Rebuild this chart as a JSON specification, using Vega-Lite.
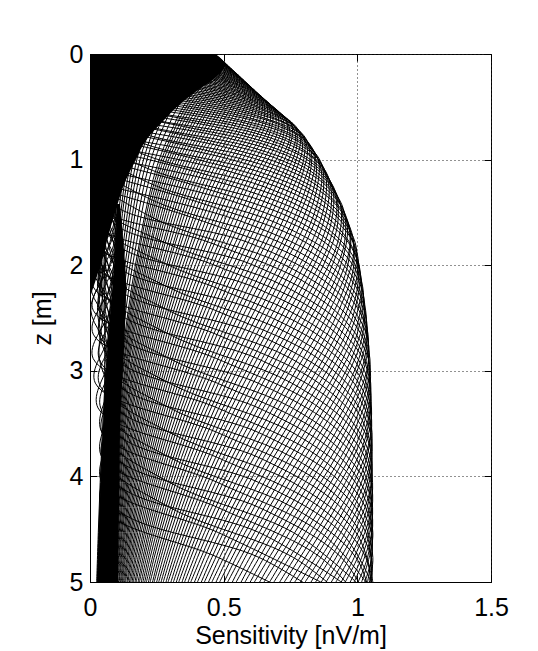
{
"$schema":"https://vega.github.io/schema/vega-lite/v6.json",
"width":401,"height":528,
"autosize":{"type":"none"},
"padding":{"left":90,"top":54,"right":47,"bottom":69},
"background":"#ffffff",
"config":{"view":{"stroke":"#000","strokeWidth":1},"font":"Liberation Sans"},
"datasets":{
"wedge":[{"z":0,"x":0.47},{"z":0.105,"x":0.505},{"z":0.22,"x":0.47},{"z":0.348,"x":0.40},{"z":0.489,"x":0.33},{"z":0.645,"x":0.27},{"z":0.817,"x":0.21},{"z":1.008,"x":0.17},{"z":1.218,"x":0.13},{"z":1.45,"x":0.10},{"z":1.707,"x":0.07},{"z":1.99,"x":0.04},{"z":2.304,"x":0}],
"strip":[{"z":1.42,"xl":0.100,"xr":0.112},{"z":1.787,"xl":0.098,"xr":0.125},{"z":2.205,"xl":0.084,"xr":0.135},{"z":2.653,"xl":0.070,"xr":0.130},{"z":3.117,"xl":0.058,"xr":0.120},{"z":3.586,"xl":0.048,"xr":0.112},{"z":4.059,"xl":0.040,"xr":0.110},{"z":4.532,"xl":0.033,"xr":0.107},{"z":5,"xl":0.027,"xr":0.105}],
"curves":[
{"c":0,"z":0.407,"x":0.202},{"c":0,"z":0.533,"x":0.181},{"c":0,"z":0.686,"x":0.164},{"c":0,"z":0.877,"x":0.145},{"c":0,"z":1.118,"x":0.127},{"c":0,"z":1.42,"x":0.111},{"c":0,"z":1.787,"x":0.096},{"c":0,"z":2.205,"x":0.081},{"c":0,"z":2.653,"x":0.068},{"c":0,"z":3.117,"x":0.056},{"c":0,"z":3.586,"x":0.046},{"c":0,"z":4.059,"x":0.038},{"c":0,"z":4.532,"x":0.031},{"c":0,"z":5,"x":0.025},
{"c":1,"z":0.407,"x":0.216},{"c":1,"z":0.533,"x":0.193},{"c":1,"z":0.686,"x":0.175},{"c":1,"z":0.877,"x":0.155},{"c":1,"z":1.118,"x":0.135},{"c":1,"z":1.42,"x":0.119},{"c":1,"z":1.787,"x":0.103},{"c":1,"z":2.205,"x":0.087},{"c":1,"z":2.653,"x":0.072},{"c":1,"z":3.117,"x":0.060},{"c":1,"z":3.586,"x":0.049},{"c":1,"z":4.059,"x":0.040},{"c":1,"z":4.532,"x":0.033},{"c":1,"z":5,"x":0.027},
{"c":2,"z":0.407,"x":0.229},{"c":2,"z":0.533,"x":0.206},{"c":2,"z":0.686,"x":0.187},{"c":2,"z":0.877,"x":0.165},{"c":2,"z":1.118,"x":0.145},{"c":2,"z":1.42,"x":0.126},{"c":2,"z":1.787,"x":0.109},{"c":2,"z":2.205,"x":0.093},{"c":2,"z":2.653,"x":0.077},{"c":2,"z":3.117,"x":0.064},{"c":2,"z":3.586,"x":0.053},{"c":2,"z":4.059,"x":0.043},{"c":2,"z":4.532,"x":0.035},{"c":2,"z":5,"x":0.029},
{"c":3,"z":0.301,"x":0.274},{"c":3,"z":0.407,"x":0.245},{"c":3,"z":0.533,"x":0.220},{"c":3,"z":0.686,"x":0.199},{"c":3,"z":0.877,"x":0.176},{"c":3,"z":1.118,"x":0.154},{"c":3,"z":1.42,"x":0.135},{"c":3,"z":1.787,"x":0.117},{"c":3,"z":2.205,"x":0.099},{"c":3,"z":2.653,"x":0.082},{"c":3,"z":3.117,"x":0.068},{"c":3,"z":3.586,"x":0.056},{"c":3,"z":4.059,"x":0.046},{"c":3,"z":4.532,"x":0.038},{"c":3,"z":5,"x":0.031},
{"c":4,"z":0.301,"x":0.291},{"c":4,"z":0.407,"x":0.260},{"c":4,"z":0.533,"x":0.235},{"c":4,"z":0.686,"x":0.213},{"c":4,"z":0.877,"x":0.188},{"c":4,"z":1.118,"x":0.165},{"c":4,"z":1.42,"x":0.145},{"c":4,"z":1.787,"x":0.125},{"c":4,"z":2.205,"x":0.105},{"c":4,"z":2.653,"x":0.088},{"c":4,"z":3.117,"x":0.073},{"c":4,"z":3.586,"x":0.060},{"c":4,"z":4.059,"x":0.049},{"c":4,"z":4.532,"x":0.040},{"c":4,"z":5,"x":0.033},
{"c":5,"z":0.211,"x":0.344},{"c":5,"z":0.301,"x":0.309},{"c":5,"z":0.407,"x":0.277},{"c":5,"z":0.533,"x":0.250},{"c":5,"z":0.686,"x":0.227},{"c":5,"z":0.877,"x":0.201},{"c":5,"z":1.118,"x":0.176},{"c":5,"z":1.42,"x":0.154},{"c":5,"z":1.787,"x":0.133},{"c":5,"z":2.205,"x":0.112},{"c":5,"z":2.653,"x":0.094},{"c":5,"z":3.117,"x":0.078},{"c":5,"z":3.586,"x":0.064},{"c":5,"z":4.059,"x":0.053},{"c":5,"z":4.532,"x":0.043},{"c":5,"z":5,"x":0.035},
{"c":6,"z":0.132,"x":0.400},{"c":6,"z":0.211,"x":0.364},{"c":6,"z":0.301,"x":0.327},{"c":6,"z":0.407,"x":0.294},{"c":6,"z":0.533,"x":0.267},{"c":6,"z":0.686,"x":0.242},{"c":6,"z":0.877,"x":0.215},{"c":6,"z":1.118,"x":0.188},{"c":6,"z":1.42,"x":0.165},{"c":6,"z":1.787,"x":0.143},{"c":6,"z":2.205,"x":0.120},{"c":6,"z":2.653,"x":0.101},{"c":6,"z":3.117,"x":0.083},{"c":6,"z":3.586,"x":0.069},{"c":6,"z":4.059,"x":0.056},{"c":6,"z":4.532,"x":0.046},{"c":6,"z":5,"x":0.038},
{"c":7,"z":0.132,"x":0.420},{"c":7,"z":0.211,"x":0.384},{"c":7,"z":0.301,"x":0.348},{"c":7,"z":0.407,"x":0.313},{"c":7,"z":0.533,"x":0.284},{"c":7,"z":0.686,"x":0.258},{"c":7,"z":0.877,"x":0.228},{"c":7,"z":1.118,"x":0.201},{"c":7,"z":1.42,"x":0.175},{"c":7,"z":1.787,"x":0.152},{"c":7,"z":2.205,"x":0.128},{"c":7,"z":2.653,"x":0.107},{"c":7,"z":3.117,"x":0.089},{"c":7,"z":3.586,"x":0.073},{"c":7,"z":4.059,"x":0.060},{"c":7,"z":4.532,"x":0.049},{"c":7,"z":5,"x":0.040},
{"c":8,"z":0.062,"x":0.463},{"c":8,"z":0.132,"x":0.439},{"c":8,"z":0.211,"x":0.405},{"c":8,"z":0.301,"x":0.368},{"c":8,"z":0.407,"x":0.333},{"c":8,"z":0.533,"x":0.302},{"c":8,"z":0.686,"x":0.275},{"c":8,"z":0.877,"x":0.244},{"c":8,"z":1.118,"x":0.214},{"c":8,"z":1.42,"x":0.188},{"c":8,"z":1.787,"x":0.163},{"c":8,"z":2.205,"x":0.137},{"c":8,"z":2.653,"x":0.115},{"c":8,"z":3.117,"x":0.095},{"c":8,"z":3.586,"x":0.078},{"c":8,"z":4.059,"x":0.064},{"c":8,"z":4.532,"x":0.053},{"c":8,"z":5,"x":0.043},
{"c":9,"z":0.062,"x":0.476},{"c":9,"z":0.132,"x":0.458},{"c":9,"z":0.211,"x":0.426},{"c":9,"z":0.301,"x":0.389},{"c":9,"z":0.407,"x":0.353},{"c":9,"z":0.533,"x":0.321},{"c":9,"z":0.686,"x":0.293},{"c":9,"z":0.877,"x":0.260},{"c":9,"z":1.118,"x":0.229},{"c":9,"z":1.42,"x":0.200},{"c":9,"z":1.787,"x":0.174},{"c":9,"z":2.205,"x":0.146},{"c":9,"z":2.653,"x":0.123},{"c":9,"z":3.117,"x":0.101},{"c":9,"z":3.586,"x":0.084},{"c":9,"z":4.059,"x":0.069},{"c":9,"z":4.532,"x":0.056},{"c":9,"z":5,"x":0.046},
{"c":10,"z":0,"x":0.467},{"c":10,"z":0.062,"x":0.486},{"c":10,"z":0.132,"x":0.475},{"c":10,"z":0.211,"x":0.447},{"c":10,"z":0.301,"x":0.411},{"c":10,"z":0.407,"x":0.374},{"c":10,"z":0.533,"x":0.341},{"c":10,"z":0.686,"x":0.312},{"c":10,"z":0.877,"x":0.277},{"c":10,"z":1.118,"x":0.244},{"c":10,"z":1.42,"x":0.214},{"c":10,"z":1.787,"x":0.185},{"c":10,"z":2.205,"x":0.156},{"c":10,"z":2.653,"x":0.131},{"c":10,"z":3.117,"x":0.108},{"c":10,"z":3.586,"x":0.089},{"c":10,"z":4.059,"x":0.073},{"c":10,"z":4.532,"x":0.060},{"c":10,"z":5,"x":0.049},
{"c":11,"z":0,"x":0.458},{"c":11,"z":0.062,"x":0.493},{"c":11,"z":0.132,"x":0.492},{"c":11,"z":0.211,"x":0.467},{"c":11,"z":0.301,"x":0.433},{"c":11,"z":0.407,"x":0.396},{"c":11,"z":0.533,"x":0.362},{"c":11,"z":0.686,"x":0.331},{"c":11,"z":0.877,"x":0.295},{"c":11,"z":1.118,"x":0.260},{"c":11,"z":1.42,"x":0.228},{"c":11,"z":1.787,"x":0.198},{"c":11,"z":2.205,"x":0.167},{"c":11,"z":2.653,"x":0.140},{"c":11,"z":3.117,"x":0.116},{"c":11,"z":3.586,"x":0.095},{"c":11,"z":4.059,"x":0.078},{"c":11,"z":4.532,"x":0.064},{"c":11,"z":5,"x":0.053},
{"c":12,"z":0,"x":0.442},{"c":12,"z":0.062,"x":0.496},{"c":12,"z":0.132,"x":0.506},{"c":12,"z":0.211,"x":0.487},{"c":12,"z":0.301,"x":0.455},{"c":12,"z":0.407,"x":0.419},{"c":12,"z":0.533,"x":0.384},{"c":12,"z":0.686,"x":0.353},{"c":12,"z":0.877,"x":0.315},{"c":12,"z":1.118,"x":0.277},{"c":12,"z":1.42,"x":0.243},{"c":12,"z":1.787,"x":0.211},{"c":12,"z":2.205,"x":0.178},{"c":12,"z":2.653,"x":0.149},{"c":12,"z":3.117,"x":0.124},{"c":12,"z":3.586,"x":0.102},{"c":12,"z":4.059,"x":0.084},{"c":12,"z":4.532,"x":0.069},{"c":12,"z":5,"x":0.056},
{"c":13,"z":0,"x":0.417},{"c":13,"z":0.062,"x":0.493},{"c":13,"z":0.132,"x":0.516},{"c":13,"z":0.211,"x":0.506},{"c":13,"z":0.301,"x":0.477},{"c":13,"z":0.407,"x":0.442},{"c":13,"z":0.533,"x":0.407},{"c":13,"z":0.686,"x":0.375},{"c":13,"z":0.877,"x":0.335},{"c":13,"z":1.118,"x":0.295},{"c":13,"z":1.42,"x":0.260},{"c":13,"z":1.787,"x":0.226},{"c":13,"z":2.205,"x":0.191},{"c":13,"z":2.653,"x":0.159},{"c":13,"z":3.117,"x":0.132},{"c":13,"z":3.586,"x":0.109},{"c":13,"z":4.059,"x":0.089},{"c":13,"z":4.532,"x":0.073},{"c":13,"z":5,"x":0.060},
{"c":14,"z":0,"x":0.383},{"c":14,"z":0.062,"x":0.483},{"c":14,"z":0.132,"x":0.523},{"c":14,"z":0.211,"x":0.523},{"c":14,"z":0.301,"x":0.499},{"c":14,"z":0.407,"x":0.466},{"c":14,"z":0.533,"x":0.432},{"c":14,"z":0.686,"x":0.398},{"c":14,"z":0.877,"x":0.357},{"c":14,"z":1.118,"x":0.315},{"c":14,"z":1.42,"x":0.277},{"c":14,"z":1.787,"x":0.241},{"c":14,"z":2.205,"x":0.203},{"c":14,"z":2.653,"x":0.170},{"c":14,"z":3.117,"x":0.141},{"c":14,"z":3.586,"x":0.116},{"c":14,"z":4.059,"x":0.096},{"c":14,"z":4.532,"x":0.078},{"c":14,"z":5,"x":0.064},
{"c":15,"z":0.062,"x":0.467},{"c":15,"z":0.132,"x":0.526},{"c":15,"z":0.211,"x":0.537},{"c":15,"z":0.301,"x":0.520},{"c":15,"z":0.407,"x":0.490},{"c":15,"z":0.533,"x":0.456},{"c":15,"z":0.686,"x":0.422},{"c":15,"z":0.877,"x":0.380},{"c":15,"z":1.118,"x":0.335},{"c":15,"z":1.42,"x":0.295},{"c":15,"z":1.787,"x":0.256},{"c":15,"z":2.205,"x":0.217},{"c":15,"z":2.653,"x":0.182},{"c":15,"z":3.117,"x":0.151},{"c":15,"z":3.586,"x":0.124},{"c":15,"z":4.059,"x":0.102},{"c":15,"z":4.532,"x":0.084},{"c":15,"z":5,"x":0.069},
{"c":16,"z":0.062,"x":0.440},{"c":16,"z":0.132,"x":0.523},{"c":16,"z":0.211,"x":0.549},{"c":16,"z":0.301,"x":0.540},{"c":16,"z":0.407,"x":0.514},{"c":16,"z":0.533,"x":0.482},{"c":16,"z":0.686,"x":0.447},{"c":16,"z":0.877,"x":0.403},{"c":16,"z":1.118,"x":0.357},{"c":16,"z":1.42,"x":0.315},{"c":16,"z":1.787,"x":0.274},{"c":16,"z":2.205,"x":0.232},{"c":16,"z":2.653,"x":0.194},{"c":16,"z":3.117,"x":0.161},{"c":16,"z":3.586,"x":0.133},{"c":16,"z":4.059,"x":0.109},{"c":16,"z":4.532,"x":0.090},{"c":16,"z":5,"x":0.073},
{"c":17,"z":0.062,"x":0.404},{"c":17,"z":0.132,"x":0.513},{"c":17,"z":0.211,"x":0.557},{"c":17,"z":0.301,"x":0.558},{"c":17,"z":0.407,"x":0.538},{"c":17,"z":0.533,"x":0.507},{"c":17,"z":0.686,"x":0.474},{"c":17,"z":0.877,"x":0.428},{"c":17,"z":1.118,"x":0.380},{"c":17,"z":1.42,"x":0.335},{"c":17,"z":1.787,"x":0.292},{"c":17,"z":2.205,"x":0.248},{"c":17,"z":2.653,"x":0.207},{"c":17,"z":3.117,"x":0.172},{"c":17,"z":3.586,"x":0.142},{"c":17,"z":4.059,"x":0.117},{"c":17,"z":4.532,"x":0.096},{"c":17,"z":5,"x":0.078},
{"c":18,"z":0.062,"x":0.356},{"c":18,"z":0.132,"x":0.495},{"c":18,"z":0.211,"x":0.560},{"c":18,"z":0.301,"x":0.574},{"c":18,"z":0.407,"x":0.560},{"c":18,"z":0.533,"x":0.533},{"c":18,"z":0.686,"x":0.501},{"c":18,"z":0.877,"x":0.454},{"c":18,"z":1.118,"x":0.404},{"c":18,"z":1.42,"x":0.357},{"c":18,"z":1.787,"x":0.312},{"c":18,"z":2.205,"x":0.264},{"c":18,"z":2.653,"x":0.221},{"c":18,"z":3.117,"x":0.184},{"c":18,"z":3.586,"x":0.152},{"c":18,"z":4.059,"x":0.125},{"c":18,"z":4.532,"x":0.102},{"c":18,"z":5,"x":0.084},
{"c":19,"z":0.062,"x":0.297},{"c":19,"z":0.132,"x":0.467},{"c":19,"z":0.211,"x":0.556},{"c":19,"z":0.301,"x":0.587},{"c":19,"z":0.407,"x":0.581},{"c":19,"z":0.533,"x":0.559},{"c":19,"z":0.686,"x":0.529},{"c":19,"z":0.877,"x":0.481},{"c":19,"z":1.118,"x":0.430},{"c":19,"z":1.42,"x":0.380},{"c":19,"z":1.787,"x":0.332},{"c":19,"z":2.205,"x":0.282},{"c":19,"z":2.653,"x":0.236},{"c":19,"z":3.117,"x":0.196},{"c":19,"z":3.586,"x":0.162},{"c":19,"z":4.059,"x":0.133},{"c":19,"z":4.532,"x":0.109},{"c":19,"z":5,"x":0.090},
{"c":20,"z":0.132,"x":0.429},{"c":20,"z":0.211,"x":0.546},{"c":20,"z":0.301,"x":0.595},{"c":20,"z":0.407,"x":0.601},{"c":20,"z":0.533,"x":0.585},{"c":20,"z":0.686,"x":0.557},{"c":20,"z":0.877,"x":0.510},{"c":20,"z":1.118,"x":0.457},{"c":20,"z":1.42,"x":0.405},{"c":20,"z":1.787,"x":0.354},{"c":20,"z":2.205,"x":0.300},{"c":20,"z":2.653,"x":0.252},{"c":20,"z":3.117,"x":0.209},{"c":20,"z":3.586,"x":0.173},{"c":20,"z":4.059,"x":0.142},{"c":20,"z":4.532,"x":0.117},{"c":20,"z":5,"x":0.096},
{"c":21,"z":0.132,"x":0.379},{"c":21,"z":0.211,"x":0.526},{"c":21,"z":0.301,"x":0.598},{"c":21,"z":0.407,"x":0.618},{"c":21,"z":0.533,"x":0.609},{"c":21,"z":0.686,"x":0.586},{"c":21,"z":0.877,"x":0.539},{"c":21,"z":1.118,"x":0.484},{"c":21,"z":1.42,"x":0.431},{"c":21,"z":1.787,"x":0.377},{"c":21,"z":2.205,"x":0.320},{"c":21,"z":2.653,"x":0.269},{"c":21,"z":3.117,"x":0.224},{"c":21,"z":3.586,"x":0.185},{"c":21,"z":4.059,"x":0.152},{"c":21,"z":4.532,"x":0.125},{"c":21,"z":5,"x":0.102},
{"c":22,"z":0.132,"x":0.315},{"c":22,"z":0.211,"x":0.497},{"c":22,"z":0.301,"x":0.594},{"c":22,"z":0.407,"x":0.632},{"c":22,"z":0.533,"x":0.633},{"c":22,"z":0.686,"x":0.614},{"c":22,"z":0.877,"x":0.569},{"c":22,"z":1.118,"x":0.513},{"c":22,"z":1.42,"x":0.458},{"c":22,"z":1.787,"x":0.401},{"c":22,"z":2.205,"x":0.341},{"c":22,"z":2.653,"x":0.287},{"c":22,"z":3.117,"x":0.239},{"c":22,"z":3.586,"x":0.197},{"c":22,"z":4.059,"x":0.162},{"c":22,"z":4.532,"x":0.133},{"c":22,"z":5,"x":0.109},
{"c":23,"z":0.132,"x":0.239},{"c":23,"z":0.211,"x":0.457},{"c":23,"z":0.301,"x":0.583},{"c":23,"z":0.407,"x":0.640},{"c":23,"z":0.533,"x":0.654},{"c":23,"z":0.686,"x":0.642},{"c":23,"z":0.877,"x":0.599},{"c":23,"z":1.118,"x":0.544},{"c":23,"z":1.42,"x":0.487},{"c":23,"z":1.787,"x":0.427},{"c":23,"z":2.205,"x":0.364},{"c":23,"z":2.653,"x":0.306},{"c":23,"z":3.117,"x":0.255},{"c":23,"z":3.586,"x":0.210},{"c":23,"z":4.059,"x":0.173},{"c":23,"z":4.532,"x":0.142},{"c":23,"z":5,"x":0.117},
{"c":24,"z":0.132,"x":0.149},{"c":24,"z":0.211,"x":0.402},{"c":24,"z":0.301,"x":0.563},{"c":24,"z":0.407,"x":0.644},{"c":24,"z":0.533,"x":0.673},{"c":24,"z":0.686,"x":0.670},{"c":24,"z":0.877,"x":0.630},{"c":24,"z":1.118,"x":0.574},{"c":24,"z":1.42,"x":0.516},{"c":24,"z":1.787,"x":0.455},{"c":24,"z":2.205,"x":0.388},{"c":24,"z":2.653,"x":0.327},{"c":24,"z":3.117,"x":0.272},{"c":24,"z":3.586,"x":0.225},{"c":24,"z":4.059,"x":0.185},{"c":24,"z":4.532,"x":0.152},{"c":24,"z":5,"x":0.125},
{"c":25,"z":0.211,"x":0.335},{"c":25,"z":0.301,"x":0.531},{"c":25,"z":0.407,"x":0.640},{"c":25,"z":0.533,"x":0.688},{"c":25,"z":0.686,"x":0.695},{"c":25,"z":0.877,"x":0.660},{"c":25,"z":1.118,"x":0.606},{"c":25,"z":1.42,"x":0.547},{"c":25,"z":1.787,"x":0.483},{"c":25,"z":2.205,"x":0.413},{"c":25,"z":2.653,"x":0.348},{"c":25,"z":3.117,"x":0.290},{"c":25,"z":3.586,"x":0.240},{"c":25,"z":4.059,"x":0.197},{"c":25,"z":4.532,"x":0.162},{"c":25,"z":5,"x":0.133},
{"c":26,"z":0.211,"x":0.254},{"c":26,"z":0.301,"x":0.487},{"c":26,"z":0.407,"x":0.627},{"c":26,"z":0.533,"x":0.697},{"c":26,"z":0.686,"x":0.719},{"c":26,"z":0.877,"x":0.691},{"c":26,"z":1.118,"x":0.639},{"c":26,"z":1.42,"x":0.579},{"c":26,"z":1.787,"x":0.513},{"c":26,"z":2.205,"x":0.439},{"c":26,"z":2.653,"x":0.371},{"c":26,"z":3.117,"x":0.309},{"c":26,"z":3.586,"x":0.256},{"c":26,"z":4.059,"x":0.211},{"c":26,"z":4.532,"x":0.173},{"c":26,"z":5,"x":0.142},
{"c":27,"z":0.211,"x":0.159},{"c":27,"z":0.301,"x":0.430},{"c":27,"z":0.407,"x":0.606},{"c":27,"z":0.533,"x":0.701},{"c":27,"z":0.686,"x":0.739},{"c":27,"z":0.877,"x":0.720},{"c":27,"z":1.118,"x":0.672},{"c":27,"z":1.42,"x":0.612},{"c":27,"z":1.787,"x":0.544},{"c":27,"z":2.205,"x":0.468},{"c":27,"z":2.653,"x":0.395},{"c":27,"z":3.117,"x":0.330},{"c":27,"z":3.586,"x":0.273},{"c":27,"z":4.059,"x":0.225},{"c":27,"z":4.532,"x":0.185},{"c":27,"z":5,"x":0.152},
{"c":28,"z":0.211,"x":0.051},{"c":28,"z":0.301,"x":0.358},{"c":28,"z":0.407,"x":0.572},{"c":28,"z":0.533,"x":0.696},{"c":28,"z":0.686,"x":0.755},{"c":28,"z":0.877,"x":0.747},{"c":28,"z":1.118,"x":0.704},{"c":28,"z":1.42,"x":0.646},{"c":28,"z":1.787,"x":0.577},{"c":28,"z":2.205,"x":0.497},{"c":28,"z":2.653,"x":0.421},{"c":28,"z":3.117,"x":0.351},{"c":28,"z":3.586,"x":0.291},{"c":28,"z":4.059,"x":0.240},{"c":28,"z":4.532,"x":0.198},{"c":28,"z":5,"x":0.162},
{"c":29,"z":0.301,"x":0.271},{"c":29,"z":0.407,"x":0.525},{"c":29,"z":0.533,"x":0.684},{"c":29,"z":0.686,"x":0.766},{"c":29,"z":0.877,"x":0.773},{"c":29,"z":1.118,"x":0.737},{"c":29,"z":1.42,"x":0.681},{"c":29,"z":1.787,"x":0.610},{"c":29,"z":2.205,"x":0.527},{"c":29,"z":2.653,"x":0.448},{"c":29,"z":3.117,"x":0.375},{"c":29,"z":3.586,"x":0.311},{"c":29,"z":4.059,"x":0.256},{"c":29,"z":4.532,"x":0.211},{"c":29,"z":5,"x":0.173},
{"c":30,"z":0.301,"x":0.169},{"c":30,"z":0.407,"x":0.463},{"c":30,"z":0.533,"x":0.659},{"c":30,"z":0.686,"x":0.770},{"c":30,"z":0.877,"x":0.795},{"c":30,"z":1.118,"x":0.768},{"c":30,"z":1.42,"x":0.716},{"c":30,"z":1.787,"x":0.646},{"c":30,"z":2.205,"x":0.559},{"c":30,"z":2.653,"x":0.476},{"c":30,"z":3.117,"x":0.399},{"c":30,"z":3.586,"x":0.331},{"c":30,"z":4.059,"x":0.274},{"c":30,"z":4.532,"x":0.225},{"c":30,"z":5,"x":0.185},
{"c":31,"z":0.301,"x":0.054},{"c":31,"z":0.407,"x":0.385},{"c":31,"z":0.533,"x":0.622},{"c":31,"z":0.686,"x":0.765},{"c":31,"z":0.877,"x":0.812},{"c":31,"z":1.118,"x":0.797},{"c":31,"z":1.42,"x":0.750},{"c":31,"z":1.787,"x":0.681},{"c":31,"z":2.205,"x":0.593},{"c":31,"z":2.653,"x":0.506},{"c":31,"z":3.117,"x":0.425},{"c":31,"z":3.586,"x":0.353},{"c":31,"z":4.059,"x":0.292},{"c":31,"z":4.532,"x":0.240},{"c":31,"z":5,"x":0.198},
{"c":32,"z":0.301,"x":0.014},{"c":32,"z":0.407,"x":0.292},{"c":32,"z":0.533,"x":0.571},{"c":32,"z":0.686,"x":0.751},{"c":32,"z":0.877,"x":0.823},{"c":32,"z":1.118,"x":0.824},{"c":32,"z":1.42,"x":0.786},{"c":32,"z":1.787,"x":0.718},{"c":32,"z":2.205,"x":0.628},{"c":32,"z":2.653,"x":0.538},{"c":32,"z":3.117,"x":0.452},{"c":32,"z":3.586,"x":0.376},{"c":32,"z":4.059,"x":0.311},{"c":32,"z":4.532,"x":0.257},{"c":32,"z":5,"x":0.211},
{"c":33,"z":0.407,"x":0.182},{"c":33,"z":0.533,"x":0.504},{"c":33,"z":0.686,"x":0.724},{"c":33,"z":0.877,"x":0.828},{"c":33,"z":1.118,"x":0.847},{"c":33,"z":1.42,"x":0.818},{"c":33,"z":1.787,"x":0.754},{"c":33,"z":2.205,"x":0.664},{"c":33,"z":2.653,"x":0.570},{"c":33,"z":3.117,"x":0.481},{"c":33,"z":3.586,"x":0.401},{"c":33,"z":4.059,"x":0.332},{"c":33,"z":4.532,"x":0.274},{"c":33,"z":5,"x":0.225},
{"c":34,"z":0.407,"x":0.059},{"c":34,"z":0.533,"x":0.419},{"c":34,"z":0.686,"x":0.684},{"c":34,"z":0.877,"x":0.823},{"c":34,"z":1.118,"x":0.866},{"c":34,"z":1.42,"x":0.850},{"c":34,"z":1.787,"x":0.792},{"c":34,"z":2.205,"x":0.700},{"c":34,"z":2.653,"x":0.605},{"c":34,"z":3.117,"x":0.511},{"c":34,"z":3.586,"x":0.427},{"c":34,"z":4.059,"x":0.354},{"c":34,"z":4.532,"x":0.292},{"c":34,"z":5,"x":0.240},
{"c":35,"z":0.407,"x":0.014},{"c":35,"z":0.533,"x":0.318},{"c":35,"z":0.686,"x":0.628},{"c":35,"z":0.877,"x":0.808},{"c":35,"z":1.118,"x":0.878},{"c":35,"z":1.42,"x":0.878},{"c":35,"z":1.787,"x":0.828},{"c":35,"z":2.205,"x":0.738},{"c":35,"z":2.653,"x":0.640},{"c":35,"z":3.117,"x":0.543},{"c":35,"z":3.586,"x":0.454},{"c":35,"z":4.059,"x":0.377},{"c":35,"z":4.532,"x":0.312},{"c":35,"z":5,"x":0.257},
{"c":36,"z":0.407,"x":0.040},{"c":36,"z":0.533,"x":0.198},{"c":36,"z":0.686,"x":0.554},{"c":36,"z":0.877,"x":0.779},{"c":36,"z":1.118,"x":0.883},{"c":36,"z":1.42,"x":0.903},{"c":36,"z":1.787,"x":0.863},{"c":36,"z":2.205,"x":0.776},{"c":36,"z":2.653,"x":0.677},{"c":36,"z":3.117,"x":0.576},{"c":36,"z":3.586,"x":0.483},{"c":36,"z":4.059,"x":0.402},{"c":36,"z":4.532,"x":0.332},{"c":36,"z":5,"x":0.274},
{"c":37,"z":0.533,"x":0.064},{"c":37,"z":0.686,"x":0.461},{"c":37,"z":0.877,"x":0.735},{"c":37,"z":1.118,"x":0.877},{"c":37,"z":1.42,"x":0.923},{"c":37,"z":1.787,"x":0.895},{"c":37,"z":2.205,"x":0.814},{"c":37,"z":2.653,"x":0.714},{"c":37,"z":3.117,"x":0.610},{"c":37,"z":3.586,"x":0.514},{"c":37,"z":4.059,"x":0.428},{"c":37,"z":4.532,"x":0.354},{"c":37,"z":5,"x":0.292},
{"c":38,"z":0.533,"x":0.014},{"c":38,"z":0.686,"x":0.349},{"c":38,"z":0.877,"x":0.675},{"c":38,"z":1.118,"x":0.861},{"c":38,"z":1.42,"x":0.936},{"c":38,"z":1.787,"x":0.926},{"c":38,"z":2.205,"x":0.851},{"c":38,"z":2.653,"x":0.752},{"c":38,"z":3.117,"x":0.646},{"c":38,"z":3.586,"x":0.545},{"c":38,"z":4.059,"x":0.455},{"c":38,"z":4.532,"x":0.377},{"c":38,"z":5,"x":0.312},
{"c":39,"z":0.533,"x":0.040},{"c":39,"z":0.686,"x":0.218},{"c":39,"z":0.877,"x":0.595},{"c":39,"z":1.118,"x":0.830},{"c":39,"z":1.42,"x":0.941},{"c":39,"z":1.787,"x":0.952},{"c":39,"z":2.205,"x":0.887},{"c":39,"z":2.653,"x":0.791},{"c":39,"z":3.117,"x":0.683},{"c":39,"z":3.586,"x":0.579},{"c":39,"z":4.059,"x":0.484},{"c":39,"z":4.532,"x":0.402},{"c":39,"z":5,"x":0.332},
{"c":40,"z":0.686,"x":0.071},{"c":40,"z":0.877,"x":0.496},{"c":40,"z":1.118,"x":0.784},{"c":40,"z":1.42,"x":0.935},{"c":40,"z":1.787,"x":0.973},{"c":40,"z":2.205,"x":0.921},{"c":40,"z":2.653,"x":0.830},{"c":40,"z":3.117,"x":0.721},{"c":40,"z":3.586,"x":0.613},{"c":40,"z":4.059,"x":0.514},{"c":40,"z":4.532,"x":0.428},{"c":40,"z":5,"x":0.354},
{"c":41,"z":0.686,"x":0.014},{"c":41,"z":0.877,"x":0.375},{"c":41,"z":1.118,"x":0.719},{"c":41,"z":1.42,"x":0.918},{"c":41,"z":1.787,"x":0.987},{"c":41,"z":2.205,"x":0.952},{"c":41,"z":2.653,"x":0.868},{"c":41,"z":3.117,"x":0.760},{"c":41,"z":3.586,"x":0.649},{"c":41,"z":4.059,"x":0.546},{"c":41,"z":4.532,"x":0.456},{"c":41,"z":5,"x":0.377},
{"c":42,"z":0.686,"x":0.040},{"c":42,"z":0.877,"x":0.235},{"c":42,"z":1.118,"x":0.635},{"c":42,"z":1.42,"x":0.885},{"c":42,"z":1.787,"x":0.992},{"c":42,"z":2.205,"x":0.979},{"c":42,"z":2.653,"x":0.905},{"c":42,"z":3.117,"x":0.799},{"c":42,"z":3.586,"x":0.686},{"c":42,"z":4.059,"x":0.580},{"c":42,"z":4.532,"x":0.485},{"c":42,"z":5,"x":0.402},
{"c":43,"z":0.877,"x":0.075},{"c":43,"z":1.118,"x":0.529},{"c":43,"z":1.42,"x":0.835},{"c":43,"z":1.787,"x":0.986},{"c":43,"z":2.205,"x":1.001},{"c":43,"z":2.653,"x":0.939},{"c":43,"z":3.117,"x":0.838},{"c":43,"z":3.586,"x":0.725},{"c":43,"z":4.059,"x":0.614},{"c":43,"z":4.532,"x":0.515},{"c":43,"z":5,"x":0.428},
{"c":44,"z":0.877,"x":0.014},{"c":44,"z":1.118,"x":0.400},{"c":44,"z":1.42,"x":0.767},{"c":44,"z":1.787,"x":0.967},{"c":44,"z":2.205,"x":1.015},{"c":44,"z":2.653,"x":0.971},{"c":44,"z":3.117,"x":0.876},{"c":44,"z":3.586,"x":0.763},{"c":44,"z":4.059,"x":0.651},{"c":44,"z":4.532,"x":0.547},{"c":44,"z":5,"x":0.456},
{"c":45,"z":0.877,"x":0.040},{"c":45,"z":1.118,"x":0.250},{"c":45,"z":1.42,"x":0.676},{"c":45,"z":1.787,"x":0.933},{"c":45,"z":2.205,"x":1.020},{"c":45,"z":2.653,"x":0.999},{"c":45,"z":3.117,"x":0.913},{"c":45,"z":3.586,"x":0.803},{"c":45,"z":4.059,"x":0.688},{"c":45,"z":4.532,"x":0.580},{"c":45,"z":5,"x":0.485},
{"c":46,"z":1.118,"x":0.080},{"c":46,"z":1.42,"x":0.563},{"c":46,"z":1.787,"x":0.880},{"c":46,"z":2.205,"x":1.014},{"c":46,"z":2.653,"x":1.020},{"c":46,"z":3.117,"x":0.948},{"c":46,"z":3.586,"x":0.842},{"c":46,"z":4.059,"x":0.726},{"c":46,"z":4.532,"x":0.615},{"c":46,"z":5,"x":0.515},
{"c":47,"z":1.118,"x":0.012},{"c":47,"z":1.42,"x":0.426},{"c":47,"z":1.787,"x":0.809},{"c":47,"z":2.205,"x":0.995},{"c":47,"z":2.653,"x":1.035},{"c":47,"z":3.117,"x":0.980},{"c":47,"z":3.586,"x":0.880},{"c":47,"z":4.059,"x":0.765},{"c":47,"z":4.532,"x":0.651},{"c":47,"z":5,"x":0.547},
{"c":48,"z":1.118,"x":0.034},{"c":48,"z":1.42,"x":0.266},{"c":48,"z":1.787,"x":0.713},{"c":48,"z":2.205,"x":0.959},{"c":48,"z":2.653,"x":1.040},{"c":48,"z":3.117,"x":1.008},{"c":48,"z":3.586,"x":0.918},{"c":48,"z":4.059,"x":0.804},{"c":48,"z":4.532,"x":0.688},{"c":48,"z":5,"x":0.580},
{"c":49,"z":0.877,"x":0.118},{"c":49,"z":1.118,"x":0.055},{"c":49,"z":1.42,"x":0.086},{"c":49,"z":1.787,"x":0.594},{"c":49,"z":2.205,"x":0.905},{"c":49,"z":2.653,"x":1.034},{"c":49,"z":3.117,"x":1.030},{"c":49,"z":3.586,"x":0.953},{"c":49,"z":4.059,"x":0.843},{"c":49,"z":4.532,"x":0.727},{"c":49,"z":5,"x":0.615},
{"c":50,"z":0.877,"x":0.119},{"c":50,"z":1.118,"x":0.074},{"c":50,"z":1.42,"x":0.012},{"c":50,"z":1.787,"x":0.450},{"c":50,"z":2.205,"x":0.832},{"c":50,"z":2.653,"x":1.014},{"c":50,"z":3.117,"x":1.045},{"c":50,"z":3.586,"x":0.985},{"c":50,"z":4.059,"x":0.882},{"c":50,"z":4.532,"x":0.766},{"c":50,"z":5,"x":0.651},
{"c":51,"z":0.877,"x":0.107},{"c":51,"z":1.118,"x":0.090},{"c":51,"z":1.42,"x":0.034},{"c":51,"z":1.787,"x":0.281},{"c":51,"z":2.205,"x":0.733},{"c":51,"z":2.653,"x":0.978},{"c":51,"z":3.117,"x":1.050},{"c":51,"z":3.586,"x":1.013},{"c":51,"z":4.059,"x":0.919},{"c":51,"z":4.532,"x":0.805},{"c":51,"z":5,"x":0.688},
{"c":52,"z":0.877,"x":0.081},{"c":52,"z":1.118,"x":0.099},{"c":52,"z":1.42,"x":0.055},{"c":52,"z":1.787,"x":0.091},{"c":52,"z":2.205,"x":0.611},{"c":52,"z":2.653,"x":0.924},{"c":52,"z":3.117,"x":1.044},{"c":52,"z":3.586,"x":1.035},{"c":52,"z":4.059,"x":0.955},{"c":52,"z":4.532,"x":0.844},{"c":52,"z":5,"x":0.727},
{"c":53,"z":0.877,"x":0.042},{"c":53,"z":1.118,"x":0.099},{"c":53,"z":1.42,"x":0.074},{"c":53,"z":1.787,"x":0.012},{"c":53,"z":2.205,"x":0.463},{"c":53,"z":2.653,"x":0.848},{"c":53,"z":3.117,"x":1.024},{"c":53,"z":3.586,"x":1.050},{"c":53,"z":4.059,"x":0.987},{"c":53,"z":4.532,"x":0.883},{"c":53,"z":5,"x":0.766},
{"c":54,"z":0.877,"x":0.003},{"c":54,"z":1.118,"x":0.089},{"c":54,"z":1.42,"x":0.090},{"c":54,"z":1.787,"x":0.034},{"c":54,"z":2.205,"x":0.289},{"c":54,"z":2.653,"x":0.748},{"c":54,"z":3.117,"x":0.988},{"c":54,"z":3.586,"x":1.055},{"c":54,"z":4.059,"x":1.015},{"c":54,"z":4.532,"x":0.920},{"c":54,"z":5,"x":0.805},
{"c":55,"z":0.877,"x":0.028},{"c":55,"z":1.118,"x":0.067},{"c":55,"z":1.42,"x":0.099},{"c":55,"z":1.787,"x":0.055},{"c":55,"z":2.205,"x":0.094},{"c":55,"z":2.653,"x":0.623},{"c":55,"z":3.117,"x":0.932},{"c":55,"z":3.586,"x":1.049},{"c":55,"z":4.059,"x":1.037},{"c":55,"z":4.532,"x":0.955},{"c":55,"z":5,"x":0.844},
{"c":56,"z":0.877,"x":0.049},{"c":56,"z":1.118,"x":0.035},{"c":56,"z":1.42,"x":0.099},{"c":56,"z":1.787,"x":0.074},{"c":56,"z":2.205,"x":0.012},{"c":56,"z":2.653,"x":0.471},{"c":56,"z":3.117,"x":0.856},{"c":56,"z":3.586,"x":1.029},{"c":56,"z":4.059,"x":1.052},{"c":56,"z":4.532,"x":0.988},{"c":56,"z":5,"x":0.883},
{"c":57,"z":0.877,"x":0.059},{"c":57,"z":1.118,"x":0.003},{"c":57,"z":1.42,"x":0.089},{"c":57,"z":1.787,"x":0.090},{"c":57,"z":2.205,"x":0.034},{"c":57,"z":2.653,"x":0.295},{"c":57,"z":3.117,"x":0.755},{"c":57,"z":3.586,"x":0.993},{"c":57,"z":4.059,"x":1.057},{"c":57,"z":4.532,"x":1.016},{"c":57,"z":5,"x":0.920},
{"c":58,"z":1.118,"x":0.028},{"c":58,"z":1.42,"x":0.067},{"c":58,"z":1.787,"x":0.099},{"c":58,"z":2.205,"x":0.055},{"c":58,"z":2.653,"x":0.095},{"c":58,"z":3.117,"x":0.629},{"c":58,"z":3.586,"x":0.937},{"c":58,"z":4.059,"x":1.051},{"c":58,"z":4.532,"x":1.038},{"c":58,"z":5,"x":0.955},
{"c":59,"z":1.118,"x":0.049},{"c":59,"z":1.42,"x":0.035},{"c":59,"z":1.787,"x":0.099},{"c":59,"z":2.205,"x":0.074},{"c":59,"z":2.653,"x":0.012},{"c":59,"z":3.117,"x":0.476},{"c":59,"z":3.586,"x":0.860},{"c":59,"z":4.059,"x":1.031},{"c":59,"z":4.532,"x":1.053},{"c":59,"z":5,"x":0.988},
{"c":60,"z":1.118,"x":0.059},{"c":60,"z":1.42,"x":0.003},{"c":60,"z":1.787,"x":0.089},{"c":60,"z":2.205,"x":0.090},{"c":60,"z":2.653,"x":0.034},{"c":60,"z":3.117,"x":0.297},{"c":60,"z":3.586,"x":0.759},{"c":60,"z":4.059,"x":0.994},{"c":60,"z":4.532,"x":1.058},{"c":60,"z":5,"x":1.016},
{"c":61,"z":1.118,"x":0.055},{"c":61,"z":1.42,"x":0.028},{"c":61,"z":1.787,"x":0.067},{"c":61,"z":2.205,"x":0.099},{"c":61,"z":2.653,"x":0.055},{"c":61,"z":3.117,"x":0.096},{"c":61,"z":3.586,"x":0.632},{"c":61,"z":4.059,"x":0.939},{"c":61,"z":4.532,"x":1.052},{"c":61,"z":5,"x":1.038},
{"c":62,"z":1.118,"x":0.034},{"c":62,"z":1.42,"x":0.049},{"c":62,"z":1.787,"x":0.035},{"c":62,"z":2.205,"x":0.099},{"c":62,"z":2.653,"x":0.074},{"c":62,"z":3.117,"x":0.020},{"c":62,"z":3.586,"x":0.478},{"c":62,"z":4.059,"x":0.862},{"c":62,"z":4.532,"x":1.032},{"c":62,"z":5,"x":1.053},
{"c":63,"z":1.118,"x":0.000},{"c":63,"z":1.42,"x":0.059},{"c":63,"z":1.787,"x":0.003},{"c":63,"z":2.205,"x":0.089},{"c":63,"z":2.653,"x":0.090},{"c":63,"z":3.117,"x":0.034},{"c":63,"z":3.586,"x":0.299},{"c":63,"z":4.059,"x":0.760},{"c":63,"z":4.532,"x":0.995},{"c":63,"z":5,"x":1.058},
{"c":64,"z":1.42,"x":0.055},{"c":64,"z":1.787,"x":0.028},{"c":64,"z":2.205,"x":0.067},{"c":64,"z":2.653,"x":0.099},{"c":64,"z":3.117,"x":0.055},{"c":64,"z":3.586,"x":0.096},{"c":64,"z":4.059,"x":0.633},{"c":64,"z":4.532,"x":0.940},{"c":64,"z":5,"x":1.052},
{"c":65,"z":1.42,"x":0.034},{"c":65,"z":1.787,"x":0.049},{"c":65,"z":2.205,"x":0.035},{"c":65,"z":2.653,"x":0.099},{"c":65,"z":3.117,"x":0.074},{"c":65,"z":3.586,"x":0.045},{"c":65,"z":4.059,"x":0.479},{"c":65,"z":4.532,"x":0.863},{"c":65,"z":5,"x":1.032},
{"c":66,"z":1.42,"x":0.000},{"c":66,"z":1.787,"x":0.059},{"c":66,"z":2.205,"x":0.003},{"c":66,"z":2.653,"x":0.089},{"c":66,"z":3.117,"x":0.090},{"c":66,"z":3.586,"x":0.045},{"c":66,"z":4.059,"x":0.299},{"c":66,"z":4.532,"x":0.761},{"c":66,"z":5,"x":0.995},
{"c":67,"z":1.787,"x":0.055},{"c":67,"z":2.205,"x":0.028},{"c":67,"z":2.653,"x":0.067},{"c":67,"z":3.117,"x":0.099},{"c":67,"z":3.586,"x":0.055},{"c":67,"z":4.059,"x":0.096},{"c":67,"z":4.532,"x":0.633},{"c":67,"z":5,"x":0.940},
{"c":68,"z":1.787,"x":0.034},{"c":68,"z":2.205,"x":0.049},{"c":68,"z":2.653,"x":0.035},{"c":68,"z":3.117,"x":0.099},{"c":68,"z":3.586,"x":0.074},{"c":68,"z":4.059,"x":0.045},{"c":68,"z":4.532,"x":0.480},{"c":68,"z":5,"x":0.863},
{"c":109,"z":0.096,"x":0.490},{"c":109,"z":0.170,"x":0.472},{"c":109,"z":0.254,"x":0.440},{"c":109,"z":0.352,"x":0.403},{"c":109,"z":0.467,"x":0.368},{"c":109,"z":0.606,"x":0.336},{"c":109,"z":0.776,"x":0.305},{"c":109,"z":0.99,"x":0.269},{"c":109,"z":1.26,"x":0.236},{"c":109,"z":1.596,"x":0.205},{"c":109,"z":1.99,"x":0.176},{"c":109,"z":2.427,"x":0.148},{"c":109,"z":2.885,"x":0.123},{"c":109,"z":3.352,"x":0.101},{"c":109,"z":3.822,"x":0.084},{"c":109,"z":4.295,"x":0.069},{"c":109,"z":4.768,"x":0.056},{"c":109,"z":5.242,"x":0.046},
{"c":110,"z":0.030,"x":0.480},{"c":110,"z":0.096,"x":0.501},{"c":110,"z":0.170,"x":0.489},{"c":110,"z":0.254,"x":0.461},{"c":110,"z":0.352,"x":0.426},{"c":110,"z":0.467,"x":0.390},{"c":110,"z":0.606,"x":0.357},{"c":110,"z":0.776,"x":0.324},{"c":110,"z":0.99,"x":0.287},{"c":110,"z":1.26,"x":0.252},{"c":110,"z":1.596,"x":0.220},{"c":110,"z":1.99,"x":0.188},{"c":110,"z":2.427,"x":0.158},{"c":110,"z":2.885,"x":0.131},{"c":110,"z":3.352,"x":0.108},{"c":110,"z":3.822,"x":0.089},{"c":110,"z":4.295,"x":0.073},{"c":110,"z":4.768,"x":0.060},{"c":110,"z":5.242,"x":0.049},
{"c":111,"z":0.030,"x":0.471},{"c":111,"z":0.096,"x":0.508},{"c":111,"z":0.170,"x":0.507},{"c":111,"z":0.254,"x":0.482},{"c":111,"z":0.352,"x":0.449},{"c":111,"z":0.467,"x":0.413},{"c":111,"z":0.606,"x":0.379},{"c":111,"z":0.776,"x":0.344},{"c":111,"z":0.99,"x":0.305},{"c":111,"z":1.26,"x":0.268},{"c":111,"z":1.596,"x":0.234},{"c":111,"z":1.99,"x":0.201},{"c":111,"z":2.427,"x":0.169},{"c":111,"z":2.885,"x":0.140},{"c":111,"z":3.352,"x":0.116},{"c":111,"z":3.822,"x":0.095},{"c":111,"z":4.295,"x":0.078},{"c":111,"z":4.768,"x":0.064},{"c":111,"z":5.242,"x":0.053},
{"c":112,"z":0.030,"x":0.454},{"c":112,"z":0.096,"x":0.511},{"c":112,"z":0.170,"x":0.521},{"c":112,"z":0.254,"x":0.503},{"c":112,"z":0.352,"x":0.472},{"c":112,"z":0.467,"x":0.437},{"c":112,"z":0.606,"x":0.402},{"c":112,"z":0.776,"x":0.367},{"c":112,"z":0.99,"x":0.326},{"c":112,"z":1.26,"x":0.286},{"c":112,"z":1.596,"x":0.250},{"c":112,"z":1.99,"x":0.214},{"c":112,"z":2.427,"x":0.180},{"c":112,"z":2.885,"x":0.149},{"c":112,"z":3.352,"x":0.124},{"c":112,"z":3.822,"x":0.102},{"c":112,"z":4.295,"x":0.084},{"c":112,"z":4.768,"x":0.069},{"c":112,"z":5.242,"x":0.056},
{"c":113,"z":0.030,"x":0.429},{"c":113,"z":0.096,"x":0.508},{"c":113,"z":0.170,"x":0.531},{"c":113,"z":0.254,"x":0.522},{"c":113,"z":0.352,"x":0.495},{"c":113,"z":0.467,"x":0.461},{"c":113,"z":0.606,"x":0.426},{"c":113,"z":0.776,"x":0.390},{"c":113,"z":0.99,"x":0.347},{"c":113,"z":1.26,"x":0.304},{"c":113,"z":1.596,"x":0.267},{"c":113,"z":1.99,"x":0.229},{"c":113,"z":2.427,"x":0.193},{"c":113,"z":2.885,"x":0.160},{"c":113,"z":3.352,"x":0.132},{"c":113,"z":3.822,"x":0.109},{"c":113,"z":4.295,"x":0.089},{"c":113,"z":4.768,"x":0.073},{"c":113,"z":5.242,"x":0.060},
{"c":114,"z":0.030,"x":0.394},{"c":114,"z":0.096,"x":0.497},{"c":114,"z":0.170,"x":0.539},{"c":114,"z":0.254,"x":0.540},{"c":114,"z":0.352,"x":0.517},{"c":114,"z":0.467,"x":0.486},{"c":114,"z":0.606,"x":0.452},{"c":114,"z":0.776,"x":0.414},{"c":114,"z":0.99,"x":0.369},{"c":114,"z":1.26,"x":0.325},{"c":114,"z":1.596,"x":0.284},{"c":114,"z":1.99,"x":0.244},{"c":114,"z":2.427,"x":0.205},{"c":114,"z":2.885,"x":0.171},{"c":114,"z":3.352,"x":0.141},{"c":114,"z":3.822,"x":0.116},{"c":114,"z":4.295,"x":0.096},{"c":114,"z":4.768,"x":0.078},{"c":114,"z":5.242,"x":0.064},
{"c":115,"z":0.096,"x":0.481},{"c":115,"z":0.170,"x":0.542},{"c":115,"z":0.254,"x":0.554},{"c":115,"z":0.352,"x":0.539},{"c":115,"z":0.467,"x":0.511},{"c":115,"z":0.606,"x":0.477},{"c":115,"z":0.776,"x":0.439},{"c":115,"z":0.99,"x":0.393},{"c":115,"z":1.26,"x":0.346},{"c":115,"z":1.596,"x":0.303},{"c":115,"z":1.99,"x":0.260},{"c":115,"z":2.427,"x":0.219},{"c":115,"z":2.885,"x":0.183},{"c":115,"z":3.352,"x":0.151},{"c":115,"z":3.822,"x":0.124},{"c":115,"z":4.295,"x":0.102},{"c":115,"z":4.768,"x":0.084},{"c":115,"z":5.242,"x":0.069},
{"c":116,"z":0.096,"x":0.453},{"c":116,"z":0.170,"x":0.539},{"c":116,"z":0.254,"x":0.567},{"c":116,"z":0.352,"x":0.560},{"c":116,"z":0.467,"x":0.536},{"c":116,"z":0.606,"x":0.505},{"c":116,"z":0.776,"x":0.465},{"c":116,"z":0.99,"x":0.417},{"c":116,"z":1.26,"x":0.368},{"c":116,"z":1.596,"x":0.324},{"c":116,"z":1.99,"x":0.278},{"c":116,"z":2.427,"x":0.235},{"c":116,"z":2.885,"x":0.195},{"c":116,"z":3.352,"x":0.161},{"c":116,"z":3.822,"x":0.133},{"c":116,"z":4.295,"x":0.109},{"c":116,"z":4.768,"x":0.090},{"c":116,"z":5.242,"x":0.073},
{"c":117,"z":0.096,"x":0.416},{"c":117,"z":0.170,"x":0.528},{"c":117,"z":0.254,"x":0.575},{"c":117,"z":0.352,"x":0.579},{"c":117,"z":0.467,"x":0.561},{"c":117,"z":0.606,"x":0.531},{"c":117,"z":0.776,"x":0.493},{"c":117,"z":0.99,"x":0.443},{"c":117,"z":1.26,"x":0.392},{"c":117,"z":1.596,"x":0.344},{"c":117,"z":1.99,"x":0.296},{"c":117,"z":2.427,"x":0.251},{"c":117,"z":2.885,"x":0.208},{"c":117,"z":3.352,"x":0.173},{"c":117,"z":3.822,"x":0.142},{"c":117,"z":4.295,"x":0.117},{"c":117,"z":4.768,"x":0.096},{"c":117,"z":5.242,"x":0.078},
{"c":118,"z":0.096,"x":0.367},{"c":118,"z":0.170,"x":0.510},{"c":118,"z":0.254,"x":0.578},{"c":118,"z":0.352,"x":0.595},{"c":118,"z":0.467,"x":0.584},{"c":118,"z":0.606,"x":0.558},{"c":118,"z":0.776,"x":0.521},{"c":118,"z":0.99,"x":0.470},{"c":118,"z":1.26,"x":0.417},{"c":118,"z":1.596,"x":0.367},{"c":118,"z":1.99,"x":0.316},{"c":118,"z":2.427,"x":0.267},{"c":118,"z":2.885,"x":0.223},{"c":118,"z":3.352,"x":0.185},{"c":118,"z":3.822,"x":0.152},{"c":118,"z":4.295,"x":0.125},{"c":118,"z":4.768,"x":0.102},{"c":118,"z":5.242,"x":0.084},
{"c":119,"z":0.096,"x":0.306},{"c":119,"z":0.170,"x":0.481},{"c":119,"z":0.254,"x":0.574},{"c":119,"z":0.352,"x":0.609},{"c":119,"z":0.467,"x":0.605},{"c":119,"z":0.606,"x":0.585},{"c":119,"z":0.776,"x":0.550},{"c":119,"z":0.99,"x":0.498},{"c":119,"z":1.26,"x":0.444},{"c":119,"z":1.596,"x":0.390},{"c":119,"z":1.99,"x":0.337},{"c":119,"z":2.427,"x":0.285},{"c":119,"z":2.885,"x":0.238},{"c":119,"z":3.352,"x":0.197},{"c":119,"z":3.822,"x":0.162},{"c":119,"z":4.295,"x":0.133},{"c":119,"z":4.768,"x":0.109},{"c":119,"z":5.242,"x":0.090},
{"c":120,"z":0.170,"x":0.442},{"c":120,"z":0.254,"x":0.563},{"c":120,"z":0.352,"x":0.617},{"c":120,"z":0.467,"x":0.626},{"c":120,"z":0.606,"x":0.612},{"c":120,"z":0.776,"x":0.579},{"c":120,"z":0.99,"x":0.528},{"c":120,"z":1.26,"x":0.472},{"c":120,"z":1.596,"x":0.416},{"c":120,"z":1.99,"x":0.359},{"c":120,"z":2.427,"x":0.303},{"c":120,"z":2.885,"x":0.254},{"c":120,"z":3.352,"x":0.210},{"c":120,"z":3.822,"x":0.173},{"c":120,"z":4.295,"x":0.142},{"c":120,"z":4.768,"x":0.117},{"c":120,"z":5.242,"x":0.096},
{"c":121,"z":0.170,"x":0.390},{"c":121,"z":0.254,"x":0.543},{"c":121,"z":0.352,"x":0.620},{"c":121,"z":0.467,"x":0.644},{"c":121,"z":0.606,"x":0.638},{"c":121,"z":0.776,"x":0.609},{"c":121,"z":0.99,"x":0.558},{"c":121,"z":1.26,"x":0.499},{"c":121,"z":1.596,"x":0.443},{"c":121,"z":1.99,"x":0.382},{"c":121,"z":2.427,"x":0.324},{"c":121,"z":2.885,"x":0.271},{"c":121,"z":3.352,"x":0.225},{"c":121,"z":3.822,"x":0.185},{"c":121,"z":4.295,"x":0.152},{"c":121,"z":4.768,"x":0.125},{"c":121,"z":5.242,"x":0.102},
{"c":122,"z":0.170,"x":0.324},{"c":122,"z":0.254,"x":0.513},{"c":122,"z":0.352,"x":0.616},{"c":122,"z":0.467,"x":0.659},{"c":122,"z":0.606,"x":0.663},{"c":122,"z":0.776,"x":0.639},{"c":122,"z":0.99,"x":0.589},{"c":122,"z":1.26,"x":0.529},{"c":122,"z":1.596,"x":0.470},{"c":122,"z":1.99,"x":0.407},{"c":122,"z":2.427,"x":0.345},{"c":122,"z":2.885,"x":0.289},{"c":122,"z":3.352,"x":0.240},{"c":122,"z":3.822,"x":0.197},{"c":122,"z":4.295,"x":0.162},{"c":122,"z":4.768,"x":0.133},{"c":122,"z":5.242,"x":0.109},
{"c":123,"z":0.170,"x":0.246},{"c":123,"z":0.254,"x":0.472},{"c":123,"z":0.352,"x":0.605},{"c":123,"z":0.467,"x":0.667},{"c":123,"z":0.606,"x":0.685},{"c":123,"z":0.776,"x":0.668},{"c":123,"z":0.99,"x":0.620},{"c":123,"z":1.26,"x":0.561},{"c":123,"z":1.596,"x":0.500},{"c":123,"z":1.99,"x":0.433},{"c":123,"z":2.427,"x":0.368},{"c":123,"z":2.885,"x":0.308},{"c":123,"z":3.352,"x":0.256},{"c":123,"z":3.822,"x":0.210},{"c":123,"z":4.295,"x":0.173},{"c":123,"z":4.768,"x":0.142},{"c":123,"z":5.242,"x":0.117},
{"c":124,"z":0.170,"x":0.149},{"c":124,"z":0.254,"x":0.415},{"c":124,"z":0.352,"x":0.584},{"c":124,"z":0.467,"x":0.671},{"c":124,"z":0.606,"x":0.705},{"c":124,"z":0.776,"x":0.697},{"c":124,"z":0.99,"x":0.652},{"c":124,"z":1.26,"x":0.592},{"c":124,"z":1.596,"x":0.530},{"c":124,"z":1.99,"x":0.461},{"c":124,"z":2.427,"x":0.392},{"c":124,"z":2.885,"x":0.329},{"c":124,"z":3.352,"x":0.273},{"c":124,"z":3.822,"x":0.225},{"c":124,"z":4.295,"x":0.185},{"c":124,"z":4.768,"x":0.152},{"c":124,"z":5.242,"x":0.125},
{"c":125,"z":0.254,"x":0.346},{"c":125,"z":0.352,"x":0.551},{"c":125,"z":0.467,"x":0.667},{"c":125,"z":0.606,"x":0.720},{"c":125,"z":0.776,"x":0.723},{"c":125,"z":0.99,"x":0.683},{"c":125,"z":1.26,"x":0.625},{"c":125,"z":1.596,"x":0.562},{"c":125,"z":1.99,"x":0.490},{"c":125,"z":2.427,"x":0.418},{"c":125,"z":2.885,"x":0.350},{"c":125,"z":3.352,"x":0.291},{"c":125,"z":3.822,"x":0.240},{"c":125,"z":4.295,"x":0.197},{"c":125,"z":4.768,"x":0.162},{"c":125,"z":5.242,"x":0.133},
{"c":126,"z":0.254,"x":0.262},{"c":126,"z":0.352,"x":0.505},{"c":126,"z":0.467,"x":0.653},{"c":126,"z":0.606,"x":0.730},{"c":126,"z":0.776,"x":0.748},{"c":126,"z":0.99,"x":0.715},{"c":126,"z":1.26,"x":0.659},{"c":126,"z":1.596,"x":0.595},{"c":126,"z":1.99,"x":0.520},{"c":126,"z":2.427,"x":0.444},{"c":126,"z":2.885,"x":0.374},{"c":126,"z":3.352,"x":0.310},{"c":126,"z":3.822,"x":0.256},{"c":126,"z":4.295,"x":0.211},{"c":126,"z":4.768,"x":0.173},{"c":126,"z":5.242,"x":0.142},
{"c":127,"z":0.254,"x":0.164},{"c":127,"z":0.352,"x":0.446},{"c":127,"z":0.467,"x":0.631},{"c":127,"z":0.606,"x":0.734},{"c":127,"z":0.776,"x":0.769},{"c":127,"z":0.99,"x":0.745},{"c":127,"z":1.26,"x":0.694},{"c":127,"z":1.596,"x":0.629},{"c":127,"z":1.99,"x":0.552},{"c":127,"z":2.427,"x":0.473},{"c":127,"z":2.885,"x":0.398},{"c":127,"z":3.352,"x":0.331},{"c":127,"z":3.822,"x":0.273},{"c":127,"z":4.295,"x":0.225},{"c":127,"z":4.768,"x":0.185},{"c":127,"z":5.242,"x":0.152},
{"c":128,"z":0.254,"x":0.051},{"c":128,"z":0.352,"x":0.371},{"c":128,"z":0.467,"x":0.596},{"c":128,"z":0.606,"x":0.729},{"c":128,"z":0.776,"x":0.785},{"c":128,"z":0.99,"x":0.773},{"c":128,"z":1.26,"x":0.727},{"c":128,"z":1.596,"x":0.663},{"c":128,"z":1.99,"x":0.585},{"c":128,"z":2.427,"x":0.502},{"c":128,"z":2.885,"x":0.424},{"c":128,"z":3.352,"x":0.352},{"c":128,"z":3.822,"x":0.291},{"c":128,"z":4.295,"x":0.240},{"c":128,"z":4.768,"x":0.198},{"c":128,"z":5.242,"x":0.162},
{"c":129,"z":0.352,"x":0.281},{"c":129,"z":0.467,"x":0.547},{"c":129,"z":0.606,"x":0.716},{"c":129,"z":0.776,"x":0.797},{"c":129,"z":0.99,"x":0.800},{"c":129,"z":1.26,"x":0.761},{"c":129,"z":1.596,"x":0.699},{"c":129,"z":1.99,"x":0.619},{"c":129,"z":2.427,"x":0.533},{"c":129,"z":2.885,"x":0.451},{"c":129,"z":3.352,"x":0.376},{"c":129,"z":3.822,"x":0.311},{"c":129,"z":4.295,"x":0.256},{"c":129,"z":4.768,"x":0.211},{"c":129,"z":5.242,"x":0.173},
{"c":130,"z":0.352,"x":0.175},{"c":130,"z":0.467,"x":0.482},{"c":130,"z":0.606,"x":0.690},{"c":130,"z":0.776,"x":0.801},{"c":130,"z":0.99,"x":0.823},{"c":130,"z":1.26,"x":0.793},{"c":130,"z":1.596,"x":0.735},{"c":130,"z":1.99,"x":0.655},{"c":130,"z":2.427,"x":0.565},{"c":130,"z":2.885,"x":0.479},{"c":130,"z":3.352,"x":0.400},{"c":130,"z":3.822,"x":0.331},{"c":130,"z":4.295,"x":0.274},{"c":130,"z":4.768,"x":0.225},{"c":130,"z":5.242,"x":0.185},
{"c":131,"z":0.352,"x":0.054},{"c":131,"z":0.467,"x":0.401},{"c":131,"z":0.606,"x":0.651},{"c":131,"z":0.776,"x":0.796},{"c":131,"z":0.99,"x":0.840},{"c":131,"z":1.26,"x":0.823},{"c":131,"z":1.596,"x":0.770},{"c":131,"z":1.99,"x":0.691},{"c":131,"z":2.427,"x":0.600},{"c":131,"z":2.885,"x":0.510},{"c":131,"z":3.352,"x":0.426},{"c":131,"z":3.822,"x":0.353},{"c":131,"z":4.295,"x":0.292},{"c":131,"z":4.768,"x":0.240},{"c":131,"z":5.242,"x":0.198},
{"c":132,"z":0.352,"x":0.014},{"c":132,"z":0.467,"x":0.304},{"c":132,"z":0.606,"x":0.598},{"c":132,"z":0.776,"x":0.781},{"c":132,"z":0.99,"x":0.852},{"c":132,"z":1.26,"x":0.850},{"c":132,"z":1.596,"x":0.807},{"c":132,"z":1.99,"x":0.728},{"c":132,"z":2.427,"x":0.635},{"c":132,"z":2.885,"x":0.542},{"c":132,"z":3.352,"x":0.453},{"c":132,"z":3.822,"x":0.376},{"c":132,"z":4.295,"x":0.311},{"c":132,"z":4.768,"x":0.257},{"c":132,"z":5.242,"x":0.211},
{"c":133,"z":0.467,"x":0.190},{"c":133,"z":0.606,"x":0.528},{"c":133,"z":0.776,"x":0.753},{"c":133,"z":0.99,"x":0.857},{"c":133,"z":1.26,"x":0.874},{"c":133,"z":1.596,"x":0.840},{"c":133,"z":1.99,"x":0.765},{"c":133,"z":2.427,"x":0.671},{"c":133,"z":2.885,"x":0.574},{"c":133,"z":3.352,"x":0.482},{"c":133,"z":3.822,"x":0.401},{"c":133,"z":4.295,"x":0.332},{"c":133,"z":4.768,"x":0.274},{"c":133,"z":5.242,"x":0.225},
{"c":134,"z":0.467,"x":0.059},{"c":134,"z":0.606,"x":0.439},{"c":134,"z":0.776,"x":0.711},{"c":134,"z":0.99,"x":0.852},{"c":134,"z":1.26,"x":0.894},{"c":134,"z":1.596,"x":0.873},{"c":134,"z":1.99,"x":0.803},{"c":134,"z":2.427,"x":0.708},{"c":134,"z":2.885,"x":0.609},{"c":134,"z":3.352,"x":0.513},{"c":134,"z":3.822,"x":0.427},{"c":134,"z":4.295,"x":0.354},{"c":134,"z":4.768,"x":0.292},{"c":134,"z":5.242,"x":0.240},
{"c":135,"z":0.467,"x":0.014},{"c":135,"z":0.606,"x":0.333},{"c":135,"z":0.776,"x":0.653},{"c":135,"z":0.99,"x":0.836},{"c":135,"z":1.26,"x":0.906},{"c":135,"z":1.596,"x":0.902},{"c":135,"z":1.99,"x":0.840},{"c":135,"z":2.427,"x":0.746},{"c":135,"z":2.885,"x":0.644},{"c":135,"z":3.352,"x":0.545},{"c":135,"z":3.822,"x":0.454},{"c":135,"z":4.295,"x":0.377},{"c":135,"z":4.768,"x":0.312},{"c":135,"z":5.242,"x":0.257},
{"c":136,"z":0.467,"x":0.040},{"c":136,"z":0.606,"x":0.207},{"c":136,"z":0.776,"x":0.576},{"c":136,"z":0.99,"x":0.806},{"c":136,"z":1.26,"x":0.911},{"c":136,"z":1.596,"x":0.927},{"c":136,"z":1.99,"x":0.875},{"c":136,"z":2.427,"x":0.785},{"c":136,"z":2.885,"x":0.682},{"c":136,"z":3.352,"x":0.578},{"c":136,"z":3.822,"x":0.483},{"c":136,"z":4.295,"x":0.402},{"c":136,"z":4.768,"x":0.332},{"c":136,"z":5.242,"x":0.274},
{"c":137,"z":0.606,"x":0.064},{"c":137,"z":0.776,"x":0.479},{"c":137,"z":0.99,"x":0.761},{"c":137,"z":1.26,"x":0.905},{"c":137,"z":1.596,"x":0.948},{"c":137,"z":1.99,"x":0.908},{"c":137,"z":2.427,"x":0.823},{"c":137,"z":2.885,"x":0.719},{"c":137,"z":3.352,"x":0.612},{"c":137,"z":3.822,"x":0.514},{"c":137,"z":4.295,"x":0.428},{"c":137,"z":4.768,"x":0.354},{"c":137,"z":5.242,"x":0.292},
{"c":138,"z":0.606,"x":0.014},{"c":138,"z":0.776,"x":0.363},{"c":138,"z":0.99,"x":0.699},{"c":138,"z":1.26,"x":0.889},{"c":138,"z":1.596,"x":0.961},{"c":138,"z":1.99,"x":0.939},{"c":138,"z":2.427,"x":0.860},{"c":138,"z":2.885,"x":0.757},{"c":138,"z":3.352,"x":0.648},{"c":138,"z":3.822,"x":0.545},{"c":138,"z":4.295,"x":0.455},{"c":138,"z":4.768,"x":0.377},{"c":138,"z":5.242,"x":0.312},
{"c":139,"z":0.606,"x":0.040},{"c":139,"z":0.776,"x":0.227},{"c":139,"z":0.99,"x":0.616},{"c":139,"z":1.26,"x":0.857},{"c":139,"z":1.596,"x":0.966},{"c":139,"z":1.99,"x":0.965},{"c":139,"z":2.427,"x":0.897},{"c":139,"z":2.885,"x":0.797},{"c":139,"z":3.352,"x":0.685},{"c":139,"z":3.822,"x":0.579},{"c":139,"z":4.295,"x":0.484},{"c":139,"z":4.768,"x":0.402},{"c":139,"z":5.242,"x":0.332},
{"c":140,"z":0.776,"x":0.071},{"c":140,"z":0.99,"x":0.513},{"c":140,"z":1.26,"x":0.809},{"c":140,"z":1.596,"x":0.960},{"c":140,"z":1.99,"x":0.987},{"c":140,"z":2.427,"x":0.931},{"c":140,"z":2.885,"x":0.836},{"c":140,"z":3.352,"x":0.723},{"c":140,"z":3.822,"x":0.613},{"c":140,"z":4.295,"x":0.514},{"c":140,"z":4.768,"x":0.428},{"c":140,"z":5.242,"x":0.354},
{"c":141,"z":0.776,"x":0.014},{"c":141,"z":0.99,"x":0.388},{"c":141,"z":1.26,"x":0.742},{"c":141,"z":1.596,"x":0.943},{"c":141,"z":1.99,"x":1.001},{"c":141,"z":2.427,"x":0.962},{"c":141,"z":2.885,"x":0.874},{"c":141,"z":3.352,"x":0.762},{"c":141,"z":3.822,"x":0.649},{"c":141,"z":4.295,"x":0.546},{"c":141,"z":4.768,"x":0.456},{"c":141,"z":5.242,"x":0.377},
{"c":142,"z":0.776,"x":0.040},{"c":142,"z":0.99,"x":0.243},{"c":142,"z":1.26,"x":0.655},{"c":142,"z":1.596,"x":0.909},{"c":142,"z":1.99,"x":1.006},{"c":142,"z":2.427,"x":0.990},{"c":142,"z":2.885,"x":0.911},{"c":142,"z":3.352,"x":0.801},{"c":142,"z":3.822,"x":0.686},{"c":142,"z":4.295,"x":0.580},{"c":142,"z":4.768,"x":0.485},{"c":142,"z":5.242,"x":0.402},
{"c":143,"z":0.99,"x":0.075},{"c":143,"z":1.26,"x":0.546},{"c":143,"z":1.596,"x":0.858},{"c":143,"z":1.99,"x":1.000},{"c":143,"z":2.427,"x":1.012},{"c":143,"z":2.885,"x":0.946},{"c":143,"z":3.352,"x":0.841},{"c":143,"z":3.822,"x":0.725},{"c":143,"z":4.295,"x":0.614},{"c":143,"z":4.768,"x":0.515},{"c":143,"z":5.242,"x":0.428},
{"c":144,"z":0.99,"x":0.014},{"c":144,"z":1.26,"x":0.413},{"c":144,"z":1.596,"x":0.788},{"c":144,"z":1.99,"x":0.981},{"c":144,"z":2.427,"x":1.026},{"c":144,"z":2.885,"x":0.978},{"c":144,"z":3.352,"x":0.879},{"c":144,"z":3.822,"x":0.763},{"c":144,"z":4.295,"x":0.651},{"c":144,"z":4.768,"x":0.547},{"c":144,"z":5.242,"x":0.456},
{"c":145,"z":0.99,"x":0.040},{"c":145,"z":1.26,"x":0.258},{"c":145,"z":1.596,"x":0.694},{"c":145,"z":1.99,"x":0.946},{"c":145,"z":2.427,"x":1.031},{"c":145,"z":2.885,"x":1.006},{"c":145,"z":3.352,"x":0.916},{"c":145,"z":3.822,"x":0.803},{"c":145,"z":4.295,"x":0.688},{"c":145,"z":4.768,"x":0.580},{"c":145,"z":5.242,"x":0.485},
{"c":146,"z":1.26,"x":0.080},{"c":146,"z":1.596,"x":0.578},{"c":146,"z":1.99,"x":0.892},{"c":146,"z":2.427,"x":1.025},{"c":146,"z":2.885,"x":1.027},{"c":146,"z":3.352,"x":0.951},{"c":146,"z":3.822,"x":0.842},{"c":146,"z":4.295,"x":0.726},{"c":146,"z":4.768,"x":0.615},{"c":146,"z":5.242,"x":0.515},
{"c":147,"z":1.26,"x":0.012},{"c":147,"z":1.596,"x":0.437},{"c":147,"z":1.99,"x":0.820},{"c":147,"z":2.427,"x":1.006},{"c":147,"z":2.885,"x":1.042},{"c":147,"z":3.352,"x":0.983},{"c":147,"z":3.822,"x":0.880},{"c":147,"z":4.295,"x":0.765},{"c":147,"z":4.768,"x":0.651},{"c":147,"z":5.242,"x":0.547},
{"c":148,"z":1.26,"x":0.034},{"c":148,"z":1.596,"x":0.273},{"c":148,"z":1.99,"x":0.723},{"c":148,"z":2.427,"x":0.970},{"c":148,"z":2.885,"x":1.047},{"c":148,"z":3.352,"x":1.011},{"c":148,"z":3.822,"x":0.918},{"c":148,"z":4.295,"x":0.804},{"c":148,"z":4.768,"x":0.688},{"c":148,"z":5.242,"x":0.580},
{"c":149,"z":0.99,"x":0.118},{"c":149,"z":1.26,"x":0.055},{"c":149,"z":1.596,"x":0.086},{"c":149,"z":1.99,"x":0.602},{"c":149,"z":2.427,"x":0.915},{"c":149,"z":2.885,"x":1.041},{"c":149,"z":3.352,"x":1.033},{"c":149,"z":3.822,"x":0.953},{"c":149,"z":4.295,"x":0.843},{"c":149,"z":4.768,"x":0.727},{"c":149,"z":5.242,"x":0.615},
{"c":150,"z":0.99,"x":0.119},{"c":150,"z":1.26,"x":0.074},{"c":150,"z":1.596,"x":0.012},{"c":150,"z":1.99,"x":0.456},{"c":150,"z":2.427,"x":0.841},{"c":150,"z":2.885,"x":1.021},{"c":150,"z":3.352,"x":1.048},{"c":150,"z":3.822,"x":0.985},{"c":150,"z":4.295,"x":0.882},{"c":150,"z":4.768,"x":0.766},{"c":150,"z":5.242,"x":0.651},
{"c":151,"z":0.99,"x":0.107},{"c":151,"z":1.26,"x":0.090},{"c":151,"z":1.596,"x":0.034},{"c":151,"z":1.99,"x":0.285},{"c":151,"z":2.427,"x":0.741},{"c":151,"z":2.885,"x":0.985},{"c":151,"z":3.352,"x":1.053},{"c":151,"z":3.822,"x":1.013},{"c":151,"z":4.295,"x":0.919},{"c":151,"z":4.768,"x":0.805},{"c":151,"z":5.242,"x":0.688},
{"c":152,"z":0.99,"x":0.081},{"c":152,"z":1.26,"x":0.099},{"c":152,"z":1.596,"x":0.055},{"c":152,"z":1.99,"x":0.091},{"c":152,"z":2.427,"x":0.618},{"c":152,"z":2.885,"x":0.930},{"c":152,"z":3.352,"x":1.047},{"c":152,"z":3.822,"x":1.035},{"c":152,"z":4.295,"x":0.955},{"c":152,"z":4.768,"x":0.844},{"c":152,"z":5.242,"x":0.727},
{"c":153,"z":0.99,"x":0.042},{"c":153,"z":1.26,"x":0.099},{"c":153,"z":1.596,"x":0.074},{"c":153,"z":1.99,"x":0.012},{"c":153,"z":2.427,"x":0.468},{"c":153,"z":2.885,"x":0.854},{"c":153,"z":3.352,"x":1.027},{"c":153,"z":3.822,"x":1.050},{"c":153,"z":4.295,"x":0.987},{"c":153,"z":4.768,"x":0.883},{"c":153,"z":5.242,"x":0.766},
{"c":154,"z":0.99,"x":0.003},{"c":154,"z":1.26,"x":0.089},{"c":154,"z":1.596,"x":0.090},{"c":154,"z":1.99,"x":0.034},{"c":154,"z":2.427,"x":0.292},{"c":154,"z":2.885,"x":0.753},{"c":154,"z":3.352,"x":0.991},{"c":154,"z":3.822,"x":1.055},{"c":154,"z":4.295,"x":1.015},{"c":154,"z":4.768,"x":0.920},{"c":154,"z":5.242,"x":0.805},
{"c":155,"z":0.99,"x":0.028},{"c":155,"z":1.26,"x":0.067},{"c":155,"z":1.596,"x":0.099},{"c":155,"z":1.99,"x":0.055},{"c":155,"z":2.427,"x":0.094},{"c":155,"z":2.885,"x":0.627},{"c":155,"z":3.352,"x":0.935},{"c":155,"z":3.822,"x":1.049},{"c":155,"z":4.295,"x":1.037},{"c":155,"z":4.768,"x":0.955},{"c":155,"z":5.242,"x":0.844},
{"c":156,"z":0.99,"x":0.049},{"c":156,"z":1.26,"x":0.035},{"c":156,"z":1.596,"x":0.099},{"c":156,"z":1.99,"x":0.074},{"c":156,"z":2.427,"x":0.012},{"c":156,"z":2.885,"x":0.474},{"c":156,"z":3.352,"x":0.859},{"c":156,"z":3.822,"x":1.029},{"c":156,"z":4.295,"x":1.052},{"c":156,"z":4.768,"x":0.988},{"c":156,"z":5.242,"x":0.883},
{"c":157,"z":0.99,"x":0.059},{"c":157,"z":1.26,"x":0.003},{"c":157,"z":1.596,"x":0.089},{"c":157,"z":1.99,"x":0.090},{"c":157,"z":2.427,"x":0.034},{"c":157,"z":2.885,"x":0.297},{"c":157,"z":3.352,"x":0.757},{"c":157,"z":3.822,"x":0.993},{"c":157,"z":4.295,"x":1.057},{"c":157,"z":4.768,"x":1.016},{"c":157,"z":5.242,"x":0.920},
{"c":158,"z":1.26,"x":0.028},{"c":158,"z":1.596,"x":0.067},{"c":158,"z":1.99,"x":0.099},{"c":158,"z":2.427,"x":0.055},{"c":158,"z":2.885,"x":0.095},{"c":158,"z":3.352,"x":0.631},{"c":158,"z":3.822,"x":0.937},{"c":158,"z":4.295,"x":1.051},{"c":158,"z":4.768,"x":1.038},{"c":158,"z":5.242,"x":0.955},
{"c":159,"z":1.26,"x":0.049},{"c":159,"z":1.596,"x":0.035},{"c":159,"z":1.99,"x":0.099},{"c":159,"z":2.427,"x":0.074},{"c":159,"z":2.885,"x":0.012},{"c":159,"z":3.352,"x":0.477},{"c":159,"z":3.822,"x":0.860},{"c":159,"z":4.295,"x":1.031},{"c":159,"z":4.768,"x":1.053},{"c":159,"z":5.242,"x":0.988},
{"c":160,"z":1.26,"x":0.059},{"c":160,"z":1.596,"x":0.003},{"c":160,"z":1.99,"x":0.089},{"c":160,"z":2.427,"x":0.090},{"c":160,"z":2.885,"x":0.034},{"c":160,"z":3.352,"x":0.298},{"c":160,"z":3.822,"x":0.759},{"c":160,"z":4.295,"x":0.994},{"c":160,"z":4.768,"x":1.058},{"c":160,"z":5.242,"x":1.016},
{"c":161,"z":1.26,"x":0.055},{"c":161,"z":1.596,"x":0.028},{"c":161,"z":1.99,"x":0.067},{"c":161,"z":2.427,"x":0.099},{"c":161,"z":2.885,"x":0.055},{"c":161,"z":3.352,"x":0.096},{"c":161,"z":3.822,"x":0.632},{"c":161,"z":4.295,"x":0.939},{"c":161,"z":4.768,"x":1.052},{"c":161,"z":5.242,"x":1.038},
{"c":162,"z":1.26,"x":0.034},{"c":162,"z":1.596,"x":0.049},{"c":162,"z":1.99,"x":0.035},{"c":162,"z":2.427,"x":0.099},{"c":162,"z":2.885,"x":0.074},{"c":162,"z":3.352,"x":0.030},{"c":162,"z":3.822,"x":0.478},{"c":162,"z":4.295,"x":0.862},{"c":162,"z":4.768,"x":1.032},{"c":162,"z":5.242,"x":1.053},
{"c":163,"z":1.26,"x":0.000},{"c":163,"z":1.596,"x":0.059},{"c":163,"z":1.99,"x":0.003},{"c":163,"z":2.427,"x":0.089},{"c":163,"z":2.885,"x":0.090},{"c":163,"z":3.352,"x":0.040},{"c":163,"z":3.822,"x":0.299},{"c":163,"z":4.295,"x":0.760},{"c":163,"z":4.768,"x":0.995},{"c":163,"z":5.242,"x":1.058},
{"c":164,"z":1.596,"x":0.055},{"c":164,"z":1.99,"x":0.028},{"c":164,"z":2.427,"x":0.067},{"c":164,"z":2.885,"x":0.099},{"c":164,"z":3.352,"x":0.055},{"c":164,"z":3.822,"x":0.096},{"c":164,"z":4.295,"x":0.633},{"c":164,"z":4.768,"x":0.940},{"c":164,"z":5.242,"x":1.052},
{"c":165,"z":1.596,"x":0.034},{"c":165,"z":1.99,"x":0.049},{"c":165,"z":2.427,"x":0.035},{"c":165,"z":2.885,"x":0.099},{"c":165,"z":3.352,"x":0.074},{"c":165,"z":3.822,"x":0.045},{"c":165,"z":4.295,"x":0.479},{"c":165,"z":4.768,"x":0.863},{"c":165,"z":5.242,"x":1.032},
{"c":166,"z":1.596,"x":0.000},{"c":166,"z":1.99,"x":0.059},{"c":166,"z":2.427,"x":0.003},{"c":166,"z":2.885,"x":0.089},{"c":166,"z":3.352,"x":0.090},{"c":166,"z":3.822,"x":0.045},{"c":166,"z":4.295,"x":0.299},{"c":166,"z":4.768,"x":0.761},{"c":166,"z":5.242,"x":0.995},
{"c":167,"z":1.99,"x":0.055},{"c":167,"z":2.427,"x":0.028},{"c":167,"z":2.885,"x":0.067},{"c":167,"z":3.352,"x":0.099},{"c":167,"z":3.822,"x":0.055},{"c":167,"z":4.295,"x":0.096},{"c":167,"z":4.768,"x":0.633},{"c":167,"z":5.242,"x":0.940},
{"c":168,"z":1.99,"x":0.034},{"c":168,"z":2.427,"x":0.049},{"c":168,"z":2.885,"x":0.035},{"c":168,"z":3.352,"x":0.099},{"c":168,"z":3.822,"x":0.074},{"c":168,"z":4.295,"x":0.045},{"c":168,"z":4.768,"x":0.480},{"c":168,"z":5.242,"x":0.863}
]},
"layer":[
{"data":{"name":"wedge"},
 "mark":{"type":"area","orient":"horizontal","color":"#000","interpolate":"monotone","clip":true},
 "encoding":{
  "y":{"field":"z","type":"quantitative","scale":{"domain":[0,5],"reverse":true,"nice":false,"zero":false},
       "axis":{"orient":"right","labels":false,"ticks":true,"tickSize":-7,"tickColor":"#000","domain":false,"grid":false,"title":null,"values":[0,1,2,3,4,5]}},
  "x":{"field":"x","type":"quantitative","scale":{"domain":[0,1.5],"nice":false},
       "axis":{"orient":"top","labels":false,"ticks":true,"tickSize":-7,"tickColor":"#000","domain":false,"grid":false,"title":null,"values":[0,0.5,1,1.5]}},
  "x2":{"datum":0}
 }},
{"data":{"name":"strip"},
 "mark":{"type":"area","orient":"horizontal","color":"#000","interpolate":"monotone","clip":true},
 "encoding":{
  "y":{"field":"z","type":"quantitative","scale":{"domain":[0,5],"reverse":true,"nice":false,"zero":false},"axis":null},
  "x":{"field":"xr","type":"quantitative","scale":{"domain":[0,1.5],"nice":false},"axis":null},
  "x2":{"field":"xl"}
 }},
{"data":{"name":"curves"},
 "mark":{"type":"line","color":"#000","strokeWidth":1,"interpolate":"catmull-rom","clip":true},
 "encoding":{
  "x":{"field":"x","type":"quantitative","scale":{"domain":[0,1.5],"nice":false},
       "axis":{"orient":"bottom","values":[0,0.5,1,1.5],"format":"~g","tickSize":-7,"tickColor":"#000","labelPadding":20,"labelFlush":false,"labelOverlap":false,
               "labelFont":"Liberation Sans","labelFontSize":25,"labelColor":"#000","domainColor":"#000",
               "title":"Sensitivity [nV/m]","titleFont":"Liberation Sans","titleFontSize":25,"titleFontWeight":"normal","titleColor":"#000","titlePadding":3,
               "grid":true,"gridDash":[1,3],"gridColor":"#222","gridOpacity":1}},
  "y":{"field":"z","type":"quantitative","scale":{"domain":[0,5],"reverse":true,"nice":false,"zero":false},
       "axis":{"orient":"left","values":[0,1,2,3,4,5],"format":"~g","tickSize":-7,"tickColor":"#000","labelPadding":14,"labelFlush":false,"labelOverlap":false,
               "labelFont":"Liberation Sans","labelFontSize":25,"labelColor":"#000","domainColor":"#000",
               "title":"z [m]","titleFont":"Liberation Sans","titleFontSize":25,"titleFontWeight":"normal","titleColor":"#000","titlePadding":14,
               "grid":true,"gridDash":[1,3],"gridColor":"#222","gridOpacity":1}},
  "detail":{"field":"c","type":"nominal"},
  "order":{"field":"z","type":"quantitative"}
 }}
],
"resolve":{"axis":{"x":"independent","y":"independent"}}
}
